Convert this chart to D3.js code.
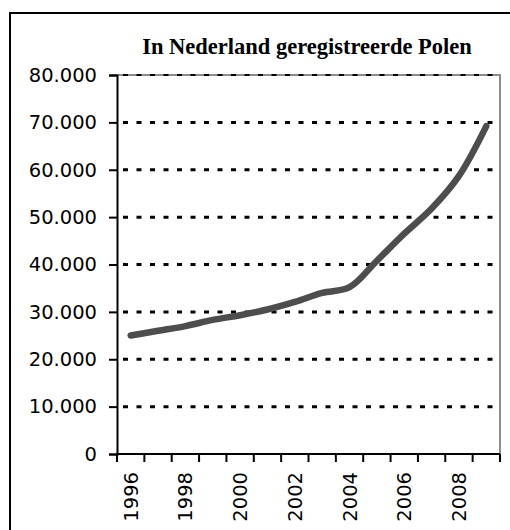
<!DOCTYPE html>
<html>
<head>
<meta charset="utf-8">
<script src="https://cdn.jsdelivr.net/npm/d3@7"></script>
<style>
  body { margin: 0; background: #fff; }
  .grid line { stroke: #000; stroke-width: 3; stroke-dasharray: 5,8.5; }
  .axis text { font-family: "DejaVu Sans", Verdana, sans-serif; font-size: 19.5px; fill: #000; }
  .axis path, .axis line { stroke: #000; stroke-width: 2; }
</style>
</head>
<body>
<div id="chart"></div>
<script>
// aantal in Nederland geregistreerde Polen
var years = ["1996", "1997", "1998", "1999", "2000", "2001", "2002",
             "2003", "2004", "2005", "2006", "2007", "2008", "2009"];
var polen = [25000, 26000, 27000, 28300, 29300, 30500, 32100,
             34000, 35200, 40800, 46500, 51800, 58700, 69200];
var yTicks = [0, 10000, 20000, 30000, 40000, 50000, 60000, 70000, 80000];
var xLabels = ["1996", "1998", "2000", "2002", "2004", "2006", "2008"];

var margin = {top: 75, right: 10, bottom: 76, left: 117},
    width = 510 - margin.left - margin.right,
    height = 530 - margin.top - margin.bottom;

var svg = d3.select("#chart").append("svg")
    .attr("width", 510)
    .attr("height", 530);

// kader om de hele grafiek
svg.append("rect")
    .attr("x", 10).attr("y", 13)
    .attr("width", 520).attr("height", 540)
    .attr("fill", "none")
    .attr("stroke", "#000")
    .attr("stroke-width", 2);

svg.append("text")
    .attr("x", 307)
    .attr("y", 54)
    .attr("text-anchor", "middle")
    .style("font-family", "'Liberation Serif', 'Times New Roman', serif")
    .style("font-weight", "bold")
    .style("font-size", "22.5px")
    .text("In Nederland geregistreerde Polen");

var g = svg.append("g")
    .attr("transform", "translate(" + margin.left + "," + margin.top + ")");

var x = d3.scaleBand()
    .domain(years)
    .range([0, width]);

var y = d3.scaleLinear()
    .domain([0, 80000])
    .range([height, 0]);

var fmt = function(d) { return d3.format(",")(d).replace(/,/g, "."); };

// plotgebied rand (grijs)
g.append("path")
    .attr("d", "M0,0H" + width + "V" + height)
    .attr("fill", "none")
    .attr("stroke", "#8c8c8c")
    .attr("stroke-width", 2);

g.append("g")
    .attr("class", "grid")
    .selectAll("line")
    .data(yTicks.filter(function(d) { return d > 0; }))
  .enter().append("line")
    .attr("x1", 6)
    .attr("x2", width)
    .attr("y1", function(d) { return y(d); })
    .attr("y2", function(d) { return y(d); })
    .style("stroke-width", function(d) { return d == 80000 ? 2 : 3; });

g.append("g")
    .attr("class", "axis")
    .call(d3.axisLeft(y).tickValues(yTicks).tickFormat(fmt).tickSize(8).tickPadding(12));

// x-as: streepjes op de grenzen van de categorieen
var xAxis = g.append("g")
    .attr("class", "axis")
    .attr("transform", "translate(0," + height + ")");

xAxis.append("line")
    .attr("x1", 0).attr("x2", width);

xAxis.selectAll(".tk")
    .data(years.concat(["end"]))
  .enter().append("line")
    .attr("x1", function(d) { return d == "end" ? width : x(d); })
    .attr("x2", function(d) { return d == "end" ? width : x(d); })
    .attr("y1", 0).attr("y2", 8);

xAxis.selectAll("text")
    .data(xLabels)
  .enter().append("text")
    .attr("transform", function(d) {
      return "translate(" + (x(d) + x.bandwidth() / 2 + 7) + ",18) rotate(-90)";
    })
    .attr("text-anchor", "end")
    .text(function(d) { return d; });

var line = d3.line()
    .x(function(d, i) { return x(years[i]) + x.bandwidth() / 2; })
    .y(function(d) { return y(d); })
    .curve(d3.curveCatmullRom.alpha(0.5));

g.append("path")
    .datum(polen)
    .attr("d", line)
    .attr("fill", "none")
    .attr("stroke", "#4d4d4d")
    .attr("stroke-width", 6.5)
    .attr("stroke-linecap", "round")
    .attr("stroke-linejoin", "round");
</script>
</body>
</html>
